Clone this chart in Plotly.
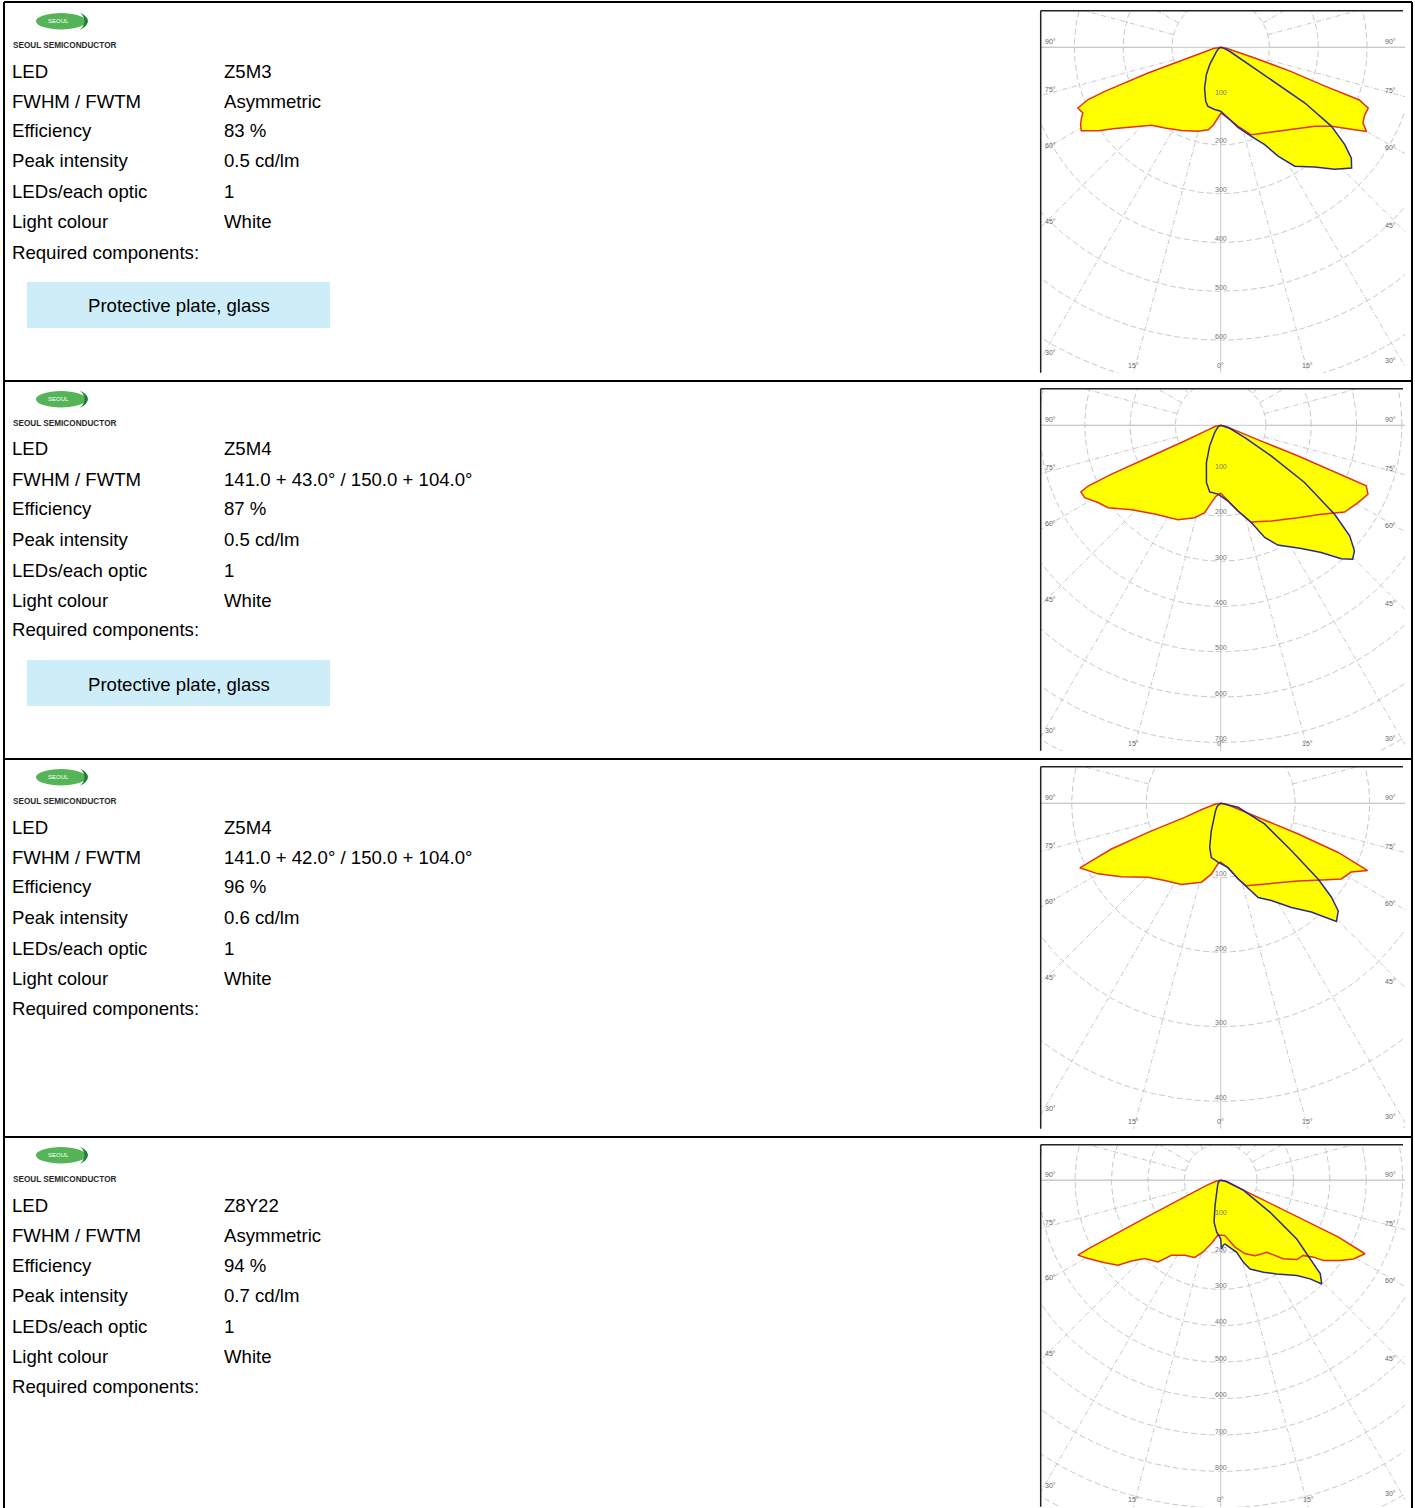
import numpy as np
import plotly.graph_objects as go

W, H = 1415, 1508

# ---------------- data ----------------
field_labels = ["LED", "FWHM / FWTM", "Efficiency", "Peak intensity",
                "LEDs/each optic", "Light colour", "Required components:"]
led_values = ["Z5M3", "Z5M4", "Z5M4", "Z8Y22"]
fwhm_values = ["Asymmetric", "141.0 + 43.0° / 150.0 + 104.0°",
               "141.0 + 42.0° / 150.0 + 104.0°", "Asymmetric"]
efficiency_values = ["83 %", "87 %", "96 %", "94 %"]
peak_values = ["0.5 cd/lm", "0.5 cd/lm", "0.6 cd/lm", "0.7 cd/lm"]
leds_per_optic = ["1", "1", "1", "1"]
light_colours = ["White", "White", "White", "White"]
required_components = [["Protective plate, glass"], ["Protective plate, glass"], [], []]
brand_name = "SEOUL SEMICONDUCTOR"
logo_text = "SEOUL"

ring_values = [
    [100, 200, 300, 400, 500, 600],
    [100, 200, 300, 400, 500, 600, 700],
    [100, 200, 300, 400],
    [100, 200, 300, 400, 500, 600, 700, 800],
]
side_angle_values = [90, 75, 60, 45, 30]
side_angle_labels = ["90°", "75°", "60°", "45°", "30°"]
bottom_angle_values = [-15, 0, 15]
bottom_angle_labels = ["15°", "0°", "15°"]

# Light distribution curves: gamma in degrees (0 = nadir), intensity in grid units
# Row 1 (Z5M3)
r1_c0_gamma = [-90, -80, -74, -71.9, -70.5, -69.2, -68.5, -67.0, -64.5, -63.1, -61.1, -59.1,
               -55.7, -52.4, -48.0, -41.5, -34.6, -25.1, -14.9, -8.5, -5.4, -1.9, 0.3, 7.1,
               12.4, 19.3, 30.9, 43.6, 50.0, 54.5, 57.4, 60.0, 62.0, 64.9, 67.6, 69.2, 69.6,
               71.0, 72.6, 74, 80, 90]
r1_c0_int = [0, 15, 35, 70, 158, 254, 292, 318, 313, 320, 328, 333,
             303, 273, 245, 213, 201, 188, 178, 171, 160, 145, 135, 149,
             166, 190, 202, 230, 252, 279, 310, 345, 330, 326, 327, 304, 228,
             153, 73, 30, 12, 0]
r1_c90_gamma = [-90, -60, -45, -39.3, -32.4, -27.7, -21.5, -15.5, -12.1, -5.5, 0, 7.1, 12.2,
                19.0, 24.3, 27.8, 31.9, 38.1, 43.1, 47.3, 49.7, 51.9, 54.5, 56.5, 57.5, 59.7,
                66, 75, 90]
r1_c90_int = [0, 5, 12, 19, 42, 63, 90, 115, 124, 128, 131, 149, 168,
              193, 219, 252, 287, 312, 342, 365, 351, 323, 279, 207, 123, 57,
              20, 5, 0]
# Row 2 (Z5M4)
r2_c0_gamma = [-90, -80, -70, -67, -66.5, -66.0, -65.9, -65.4, -64.5, -62, -57.8, -53.8,
               -46.5, -36.6, -24.3, -15.7, -10.4, -6.9, -3.5, 0, 5.5, 11.4, 17.5, 19.4,
               27.9, 39.9, 48.5, 55.0, 60.6, 64.9, 67.4, 67.7, 68.4, 68.8, 70, 78, 90]
r2_c0_int = [0, 12, 30, 60, 87, 175, 264, 322, 342, 340, 320, 308,
             271, 244, 229, 212, 196, 172, 156, 150, 168, 193, 225, 226,
             239, 266, 296, 334, 348, 359, 348, 280, 184, 89, 33, 12, 0]
r2_c90_gamma = [-90, -60, -45, -39.3, -28, -21, -14, -9.4, -2.2, 5.5, 11.4, 17.5, 21.4,
                25.5, 33.2, 38.3, 42.1, 44.6, 46.8, 49.4, 52.0, 55.7, 58.8, 62.8, 71.6, 80, 90]
r2_c90_int = [0, 6, 14, 21, 52, 88, 130, 149, 152, 168, 193, 225, 266,
              293, 325, 358, 397, 415, 405, 375, 319, 224, 131, 60, 21, 6, 0]
# Row 3 (Z5M4)
r3_c0_gamma = [-90, -80, -72, -68.75, -68.2, -67.3, -65.4, -60.1, -53.6, -44.5, -35.9,
               -25.8, -13.75, -7.5, -2.5, 0, 6.5, 12.9, 17.3, 32.4, 44.8, 52.7, 57.9, 62.2,
               65.4, 67.3, 68.4, 69.4, 72, 80, 90]
r3_c0_int = [0, 8, 25, 52, 105, 159, 208, 190, 166, 139, 128,
             121, 109, 96, 81, 79, 87, 104, 116, 127, 147, 170, 191, 198,
             217, 171, 112, 54, 25, 8, 0]
r3_c90_gamma = [-90, -50, -35, -25.5, -18.9, -14, -9.8, -2.6, 6.5, 12.9, 17.3, 21.7, 27.5,
                34.2, 39.8, 42.4, 44.4, 47.5, 49.7, 52.1, 56.2, 64.8, 77, 90]
r3_c90_int = [0, 6, 12, 21, 39, 61, 74, 79, 87, 104, 117, 136, 147,
              169, 190, 207, 222, 214, 195, 166, 114, 65, 24, 0]
# Row 4 (Z8Y22)
r4_c0_gamma = [-90, -80, -70, -66, -65.2, -63.6, -62.9, -62.6, -62.3, -59.4, -54.5, -50.4,
               -47.9, -44.1, -37.5, -33.3, -25.6, -18.6, -13.8, -8.4, -2.8, 4.2, 11.9, 18.1,
               24.5, 32.6, 38.5, 43.8, 47.7, 50.3, 52.0, 56.0, 59.3, 63.0, 64.2, 64.6, 65.9,
               70.3, 80, 90]
r4_c0_int = [0, 12, 40, 75, 109, 223, 338, 410, 443, 423, 391, 366,
             331, 300, 283, 247, 229, 224, 203, 176, 151, 152, 187, 212,
             228, 235, 276, 302, 307, 331, 358, 395, 424, 445, 358, 235, 112,
             41, 12, 0]
r4_c90_gamma = [-90, -60, -40, -25, -18.4, -12.6, -9.0, -4.4, 0, 0.6, 2.5, 3.9, 12.5, 15.45,
                18.3, 24.9, 30.9, 38.6, 42.2, 44.25, 46.8, 48.6, 52.3, 57.0, 66.2, 77.5, 90]
r4_c90_int = [0, 5, 12, 22, 35, 71, 117, 143, 161, 189, 178, 176, 203, 234,
              257, 279, 300, 335, 366, 398, 375, 327, 264, 162, 68, 17, 0]

curves = [
    (r1_c0_gamma, r1_c0_int, r1_c90_gamma, r1_c90_int),
    (r2_c0_gamma, r2_c0_int, r2_c90_gamma, r2_c90_int),
    (r3_c0_gamma, r3_c0_int, r3_c90_gamma, r3_c90_int),
    (r4_c0_gamma, r4_c0_int, r4_c90_gamma, r4_c90_int),
]

# ---------------- layout geometry (pixels) ----------------
ROW_H = 378
ROW_LINES = [2, 381, 759, 1137]
TABLE_L, TABLE_R = 4, 1412
LABEL_X, VALUE_X = 9.6, 221.6
LINE_OFFS = [70, 100, 130, 160, 191, 221, 251]
TEXT_SIZE = 18.6
PANEL_L, PANEL_R = 1041, 1405
PANEL_TOP0 = 10.7
PANEL_H = 362
CX = 1220.7
CY_OFF = [36.6, 36.6, 36.6, 35.5]
RING_PX = [48.8, 45.3, 74.5, 36.4]

FONT = "Liberation Sans, Arial, Helvetica, sans-serif"
YELLOW = "#ffff00"
RED = "#e2321c"
BLUE = "#2c2c88"
GRID = "#c8c8c8"


def px(x):
    return x / W


def py(y):
    return 1 - y / H


fig = go.Figure()
shapes = []
annotations = []
layout_axes = {}

for i in range(4):
    top = PANEL_TOP0 + ROW_H * i
    bottom = min(top + PANEL_H, H)
    cy = top + CY_OFF[i]
    s = RING_PX[i] / 100.0  # px per unit
    xa = "xaxis" if i == 0 else f"xaxis{i+1}"
    ya = "yaxis" if i == 0 else f"yaxis{i+1}"
    xr = "x" if i == 0 else f"x{i+1}"
    yr = "y" if i == 0 else f"y{i+1}"
    layout_axes[xa] = dict(domain=[px(PANEL_L), px(PANEL_R)],
                           range=[(PANEL_L - CX) / s, (PANEL_R - CX) / s],
                           visible=False, fixedrange=True, anchor=yr)
    layout_axes[ya] = dict(domain=[py(bottom), py(top)],
                           range=[-(bottom - cy) / s, (cy - top) / s],
                           visible=False, fixedrange=True, anchor=xr)

    step = 100
    # rings
    t = np.linspace(0, 2 * np.pi, 361)
    for k in range(1, 12):
        fig.add_trace(go.Scatter(x=k * step * np.cos(t), y=k * step * np.sin(t), mode="lines",
                                 line=dict(color=GRID, width=1, dash="6px,3px"),
                                 hoverinfo="skip", xaxis=xr, yaxis=yr))
    # spokes
    for a in range(0, 360, 15):
        ar = np.radians(a)
        solid = a % 90 == 0
        r0, r1 = step, 20 * step
        fig.add_trace(go.Scatter(x=[r0 * np.sin(ar), r1 * np.sin(ar)],
                                 y=[-r0 * np.cos(ar), -r1 * np.cos(ar)], mode="lines",
                                 line=dict(color=GRID, width=1,
                                           dash="solid" if solid else "5px,2px,1px,2px"),
                                 hoverinfo="skip", xaxis=xr, yaxis=yr))
    # horizontal 90° line through centre
    fig.add_trace(go.Scatter(x=[-20 * step, 20 * step], y=[0, 0], mode="lines",
                             line=dict(color=GRID, width=1), hoverinfo="skip",
                             xaxis=xr, yaxis=yr))

    g0, i0, g1, i1 = curves[i]
    g0r = np.radians(np.array(g0, float))
    g1r = np.radians(np.array(g1, float))
    x0 = np.array(i0, float) * np.sin(g0r)
    y0 = -np.array(i0, float) * np.cos(g0r)
    x1 = np.array(i1, float) * np.sin(g1r)
    y1 = -np.array(i1, float) * np.cos(g1r)
    for xx, yy in ((x0, y0), (x1, y1)):
        fig.add_trace(go.Scatter(x=xx, y=yy, mode="lines", fill="toself", fillcolor=YELLOW,
                                 line=dict(width=0, color=YELLOW), hoverinfo="skip",
                                 xaxis=xr, yaxis=yr))
    fig.add_trace(go.Scatter(x=x0, y=y0, mode="lines", line=dict(color=RED, width=1.5),
                             hoverinfo="skip", xaxis=xr, yaxis=yr))
    fig.add_trace(go.Scatter(x=x1, y=y1, mode="lines", line=dict(color=BLUE, width=1.5),
                             hoverinfo="skip", xaxis=xr, yaxis=yr))

    # ring labels
    for v in ring_values[i]:
        annotations.append(dict(x=0, y=-v + 4 / s, xref=xr, yref=yr, text=str(v),
                                showarrow=False, font=dict(size=7, color="#777", family=FONT),
                                xanchor="center", yanchor="middle"))
    # angle labels on sides
    for a, lab in zip(side_angle_values, side_angle_labels):
        for side in (-1, 1):
            edge = (PANEL_R - CX) if side == 1 else (CX - PANEL_L)
            dy = 0 if a == 90 else edge / np.tan(np.radians(a))
            yy = cy + dy - 6
            xx = 1390 if side == 1 else 1050
            annotations.append(dict(x=px(xx), y=py(yy), xref="paper", yref="paper", text=lab,
                                    showarrow=False, font=dict(size=7, color="#666", family=FONT),
                                    xanchor="center", yanchor="middle"))
    for a, lab in zip(bottom_angle_values, bottom_angle_labels):
        xx = CX + (bottom - cy) * np.tan(np.radians(a))
        annotations.append(dict(x=px(xx), y=py(bottom - 7), xref="paper", yref="paper", text=lab,
                                showarrow=False, font=dict(size=7, color="#666", family=FONT),
                                xanchor="center", yanchor="middle"))

    # panel frame (left + top)
    shapes.append(dict(type="line", xref="paper", yref="paper", x0=px(1040.7), x1=px(1040.7),
                       y0=py(top), y1=py(bottom), line=dict(color="#222", width=1.5)))
    shapes.append(dict(type="line", xref="paper", yref="paper", x0=px(1040.7), x1=px(1403),
                       y0=py(top), y1=py(top), line=dict(color="#222", width=1.5)))

    # ---------- left text block ----------
    row0 = ROW_H * i
    values = [led_values[i], fwhm_values[i], efficiency_values[i], peak_values[i],
              leds_per_optic[i], light_colours[i], ""]
    for lab, val, off in zip(field_labels, values, LINE_OFFS):
        annotations.append(dict(x=px(LABEL_X), y=py(row0 + off + 1), xref="paper", yref="paper",
                                text=lab, showarrow=False, xanchor="left", yanchor="middle",
                                font=dict(size=TEXT_SIZE, color="#000", family=FONT)))
        if val:
            annotations.append(dict(x=px(VALUE_X), y=py(row0 + off + 1), xref="paper",
                                    yref="paper", text=val, showarrow=False, xanchor="left",
                                    yanchor="middle",
                                    font=dict(size=TEXT_SIZE, color="#000", family=FONT)))
    for comp in required_components[i]:
        shapes.append(dict(type="rect", xref="paper", yref="paper", x0=px(27), x1=px(330),
                           y0=py(row0 + 328), y1=py(row0 + 282), fillcolor="#cdedf9",
                           line=dict(width=0), layer="below"))
        annotations.append(dict(x=px(178.5), y=py(row0 + 306), xref="paper", yref="paper",
                                text=comp, showarrow=False, xanchor="center", yanchor="middle",
                                font=dict(size=TEXT_SIZE, color="#000", family=FONT)))

    # logo
    shapes.append(dict(type="circle", xref="paper", yref="paper", x0=px(36), x1=px(86),
                       y0=py(row0 + 29.5), y1=py(row0 + 13), fillcolor="#55b458",
                       line=dict(width=0)))
    shapes.append(dict(type="path", xref="paper", yref="paper",
                       path=(f"M {px(80)},{py(row0+12.5)} Q {px(96)},{py(row0+21)} {px(80)},{py(row0+30)} "
                             f"Q {px(89)},{py(row0+21)} {px(80)},{py(row0+12.5)} Z"),
                       fillcolor="#1f7d35", line=dict(width=0)))
    annotations.append(dict(x=px(58), y=py(row0 + 21.3), xref="paper", yref="paper",
                            text=logo_text, showarrow=False, xanchor="center", yanchor="middle",
                            font=dict(size=6, color="#ffffff", family=FONT)))
    annotations.append(dict(x=px(10.5), y=py(row0 + 45), xref="paper", yref="paper",
                            text=f"<b>{brand_name}</b>", showarrow=False, xanchor="left",
                            yanchor="middle", font=dict(size=8.2, color="#2a2a2a", family=FONT)))

# table borders
shapes.append(dict(type="line", xref="paper", yref="paper", x0=px(TABLE_L), x1=px(TABLE_L),
                   y0=py(2), y1=py(H + 5), line=dict(color="#000", width=2)))
shapes.append(dict(type="line", xref="paper", yref="paper", x0=px(TABLE_R), x1=px(TABLE_R),
                   y0=py(2), y1=py(H + 5), line=dict(color="#000", width=2)))
for yl in ROW_LINES:
    shapes.append(dict(type="line", xref="paper", yref="paper", x0=px(TABLE_L), x1=px(TABLE_R),
                       y0=py(yl), y1=py(yl), line=dict(color="#000", width=2)))

fig.update_layout(width=W, height=H, margin=dict(l=0, r=0, t=0, b=0),
                  paper_bgcolor="white", plot_bgcolor="white", showlegend=False,
                  shapes=shapes, annotations=annotations, **layout_axes)

fig.write_html("out.html", config={"displayModeBar": False},
               post_script="document.body.style.margin='0';document.body.style.overflow='hidden';")
